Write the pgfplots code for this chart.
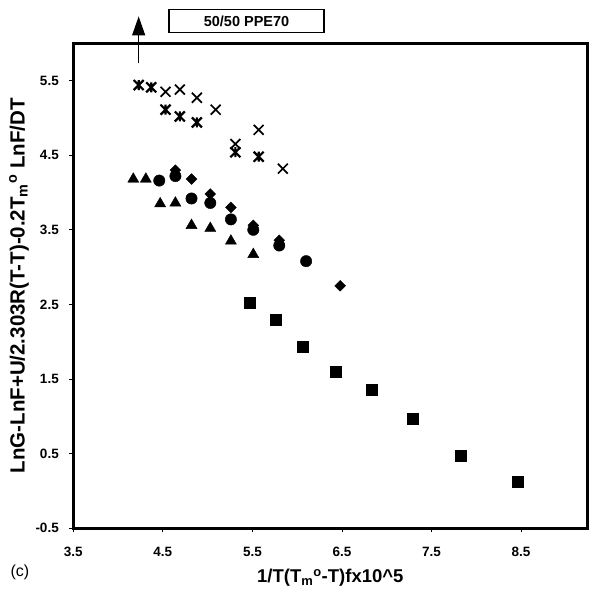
\documentclass[border=0pt]{standalone}
\usepackage{pgfplots}
\pgfplotsset{compat=1.18}
\usetikzlibrary{arrows.meta}
\usepackage{fontspec}
\setmainfont{Liberation Sans}

% Excel-like star marker: an x with a vertical bar through it
\pgfdeclareplotmark{xstar}{%
  \pgfpathmoveto{\pgfqpoint{-\pgfplotmarksize}{-\pgfplotmarksize}}%
  \pgfpathlineto{\pgfqpoint{\pgfplotmarksize}{\pgfplotmarksize}}%
  \pgfpathmoveto{\pgfqpoint{-\pgfplotmarksize}{\pgfplotmarksize}}%
  \pgfpathlineto{\pgfqpoint{\pgfplotmarksize}{-\pgfplotmarksize}}%
  \pgfpathmoveto{\pgfqpoint{0pt}{-\pgfplotmarksize}}%
  \pgfpathlineto{\pgfqpoint{0pt}{\pgfplotmarksize}}%
  \pgfusepathqstroke}

\begin{document}
\begin{tikzpicture}
\begin{axis}[
    scale only axis,
    width=514pt, height=485pt,
    xmin=3.5, xmax=9.24,
    ymin=-0.5, ymax=6.0,
    xtick={3.5,4.5,...,8.5},
    ytick={-0.5,0.5,...,5.5},
    xticklabel style={/pgf/number format/.cd,fixed,fixed zerofill,precision=1},
    yticklabel style={/pgf/number format/.cd,fixed,fixed zerofill,precision=1},
    /pgf/number format/assume math mode=true,
    tick label style={font=\bfseries\fontsize{13.5}{15}\selectfont},
    tick align=outside,
    major tick length=4pt,
    every tick/.style={black, line width=0.8pt},
    xtick pos=bottom, ytick pos=left,
    axis line style={line width=3pt},
    xticklabel shift=11pt,
    yticklabel shift=7pt,
    clip=false,
    every axis x label/.style={at={(axis description cs:0.5,-0.102)}, anchor=center},
    every axis y label/.style={at={(axis description cs:-0.1056,0.5)}, rotate=90, anchor=center},
    xlabel style={font=\bfseries\fontsize{18.5}{20}\selectfont},
    ylabel style={font=\bfseries\fontsize{20.5}{22}\selectfont},
    xlabel={1/T(T\textsubscript{m}\textsuperscript{o}-T)fx10\^{}5},
    ylabel={LnG-LnF+U/2.303R(T-T)-0.2T\textsubscript{m}\textsuperscript{o} LnF/DT},
]

% triangles
\addplot[only marks, mark=triangle*, mark size=6.4pt, mark options={fill=black, draw=black}]
coordinates {(4.17,4.18) (4.31,4.18) (4.47,3.85) (4.64,3.86) (4.82,3.56) (5.03,3.52) (5.26,3.35) (5.51,3.17)};

% circles
\addplot[only marks, mark=*, mark size=5.7pt, mark options={fill=black, draw=black}]
coordinates {(4.46,4.16) (4.64,4.22) (4.82,3.92) (5.03,3.86) (5.26,3.64) (5.51,3.50) (5.80,3.29) (6.10,3.08)};

% diamonds
\addplot[only marks, mark=square*, mark size=3.8pt, mark options={fill=black, draw=black, rotate=45}]
coordinates {(4.64,4.30) (4.82,4.18) (5.03,3.98) (5.26,3.80) (5.51,3.56) (5.80,3.36) (6.48,2.75)};

% squares
\addplot[only marks, mark=square*, mark size=5.5pt, mark options={fill=black, draw=black}]
coordinates {(5.47,2.53) (5.76,2.29) (6.06,1.93) (6.43,1.60) (6.83,1.36) (7.29,0.97) (7.83,0.47) (8.46,0.12)};

% stars
\addplot[only marks, mark=xstar, mark size=5pt, mark options={draw=black, line width=2.2pt}]
coordinates {(4.23,5.44) (4.37,5.41) (4.53,5.11) (4.69,5.02) (4.88,4.94) (5.31,4.54) (5.57,4.48)};

% crosses
\addplot[only marks, mark=x, mark size=7pt, mark options={draw=black, line width=1.7pt}]
coordinates {(4.53,5.35) (4.69,5.38) (4.88,5.27) (5.09,5.11) (5.31,4.65) (5.57,4.84) (5.84,4.32)};

\draw[line width=1.3pt, -{Triangle[width=13pt,length=19pt]}] (axis cs:4.23,5.73) -- (axis cs:4.23,6.36);

\node[draw, line width=1.3pt, minimum width=155pt, minimum height=23pt, inner sep=0pt,
      font=\bfseries\fontsize{14.5}{16}\selectfont]
  at (rel axis cs:0.337,1) [yshift=22.3pt] {50/50 PPE70};

\node[font=\fontsize{16}{18}\selectfont] at (axis description cs:-0.104,-0.09) {(c)};
\end{axis}
\pgfresetboundingbox
\path (current axis.south west) ++(-73.3pt,-60.7pt) rectangle ([shift={(11.7pt,43.3pt)}]current axis.north east);
\end{tikzpicture}
\end{document}
